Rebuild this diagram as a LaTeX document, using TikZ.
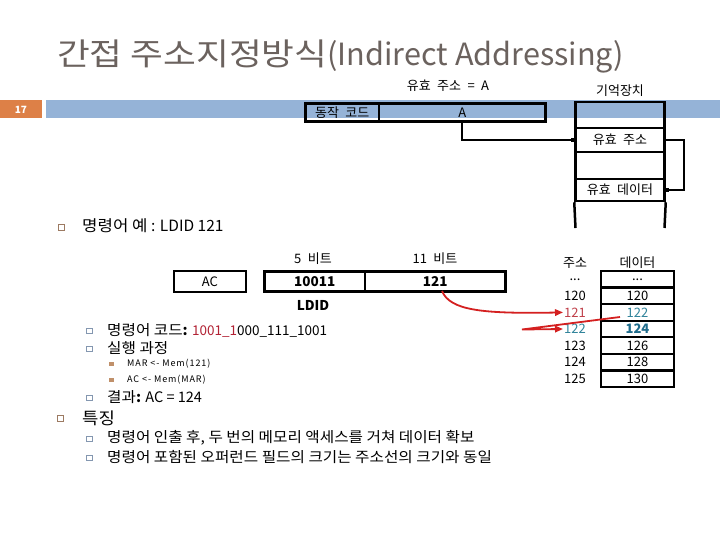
\documentclass[tikz,border=0pt]{standalone}
\usepackage{fontspec}
\setmainfont{Noto Sans CJK KR}
\newfontfamily\dfont[WordSpace=2.2]{Noto Sans CJK KR}
\newfontfamily\smfont[LetterSpace=10]{Noto Sans CJK KR}
\newfontfamily\kr[FakeStretch=1.08]{Noto Sans CJK KR}
\newfontfamily\krtitle[FakeStretch=1.15]{Noto Sans CJK KR}
\usetikzlibrary{arrows.meta}
\definecolor{bandblue}{HTML}{95B3D7}
\definecolor{pageorange}{HTML}{DD8047}
\definecolor{titlegray}{HTML}{6B625E}
\definecolor{bullA}{HTML}{9C7A62}
\definecolor{bullB}{HTML}{8497B0}
\definecolor{bullC}{HTML}{C0906A}
\definecolor{codered}{HTML}{B22234}
\definecolor{addrred}{HTML}{C0404A}
\definecolor{tealc}{HTML}{31849B}
\definecolor{tealdark}{HTML}{1F6C8C}
\definecolor{arrowred}{HTML}{D42020}
\newcommand\myfs[1]{\fontsize{#1}{#1}\selectfont}
\begin{document}
\begin{tikzpicture}[x=1pt,y=-1pt,
  thickbox/.style={draw, line width=2.5pt, inner sep=0pt},
  thinbox/.style={draw, line width=1.5pt, inner sep=0pt},
  tablebox/.style={draw, line width=2.2pt, inner sep=0pt, minimum width=73pt, minimum height=16.57pt, font=\dfont\myfs{13}},
  addr/.style={inner sep=1pt, font=\dfont\myfs{13}},
  dlabel/.style={inner sep=0pt, font=\dfont\myfs{13}},
  conn/.style={line width=2pt, -{Square[length=3.5pt,width=3.5pt]}},
  redarrow/.style={draw=arrowred, line width=1.8pt, -{Triangle[length=8pt,width=6.5pt]}},
  bA/.style={draw=bullA, line width=0.8pt, minimum size=6pt, inner sep=0pt},
  bB/.style={draw=bullB, line width=0.7pt, minimum size=5.5pt, inner sep=0pt},
  bC/.style={fill=bullC, minimum size=4.5pt, inner sep=0pt},
  txt/.style={anchor=west, inner sep=0pt}
]
\useasboundingbox[fill=white] (0,0) rectangle (720,540);

% title
\node[anchor=base west, inner sep=0pt, text=titlegray] (title) at (57,66) {{\krtitle\myfs{31}간접 주소지정방식}{\myfs{30.6}(Indirect Addressing)}};

% band
\fill[bandblue] (46,100.5) rectangle (720,118.5);
\fill[pageorange] (0,100.5) rectangle (42,118.5);
\node[text=white, font={\bfseries\myfs{10}}, inner sep=0pt] (pnum) at (21,109.5) {17};

% top instruction
\node[dlabel] (lblea) at (448,86) {유효 주소 = A};
\node[dlabel] (lblmem) at (620,91) {기억장치};
\node[thickbox, minimum width=73.5pt, minimum height=18pt, dlabel] (op1) at (342.25,112.5) {동작 코드};
\node[thickbox, minimum width=166.5pt, minimum height=18pt, dlabel] (op2) at (462.25,112.5) {A};

% memory
\node[thickbox, minimum width=89pt, minimum height=26pt] (mem0) at (620,115) {};
\node[thickbox, minimum width=89pt, minimum height=24pt, dlabel] (mem1) at (620,140) {유효 주소};
\node[thickbox, minimum width=89pt, minimum height=27pt] (mem2) at (620,165.5) {};
\node[thickbox, minimum width=89pt, minimum height=22pt, dlabel] (mem3) at (620,190) {유효 데이터};
\coordinate (memBL) at (575.5,228);
\coordinate (memBR) at (664.5,228);
\draw[line width=2.5pt] (mem3.south west) -- (memBL);
\draw[line width=2.5pt] (mem3.south east) -- (memBR);

\draw[conn] (op2.south) |- (mem1.west);
\draw[conn] (mem1.east) -- ++(18,0) |- (mem3.east);

% example
\node[bA] (bu1) at (61.5,227) {};
\node[txt, font={\myfs{15.5}}] (t1) at (82,226) {{\kr 명령어 예} : LDID 121};

\node[dlabel] (l5) at (313,259) {5 비트};
\node[dlabel] (l11) at (435,259) {11 비트};
\node[thinbox, minimum width=72pt, minimum height=21pt, dlabel] (acbox) at (210,281.5) {AC};
\node[thickbox, minimum width=100.5pt, minimum height=20pt, font={\bfseries\myfs{13.5}}] (ins1) at (314.75,281.5) {10011};
\node[thickbox, minimum width=140.5pt, minimum height=20pt, font={\bfseries\myfs{13.5}}] (ins2) at (435.25,281.5) {121};
\node[inner sep=0pt, font={\bfseries\myfs{13.5}}] (ldid) at (313,305) {LDID};

% memory table
\node[dlabel] (hAddr) at (575,263) {주소};
\node[dlabel] (hData) at (637.5,263) {데이터};
\node[tablebox] (d0) at (637.5,279.3) {...};
\node[tablebox] (d1) at (637.5,295.9) {120};
\node[tablebox, text=tealc] (d2) at (637.5,312.4) {122};
\node[tablebox, text=tealdark, font={\bfseries\myfs{13}}] (d3) at (637.5,329.0) {124};
\node[tablebox] (d4) at (637.5,345.6) {126};
\node[tablebox] (d5) at (637.5,362.1) {128};
\node[tablebox] (d6) at (637.5,378.7) {130};
\node[addr] (a0) at (575,279.3) {...};
\node[addr] (a1) at (575,295.9) {120};
\node[addr, text=addrred] (a2) at (575,312.4) {121};
\node[addr, text=tealc] (a3) at (575,329.0) {122};
\node[addr] (a4) at (575,345.6) {123};
\node[addr] (a5) at (575,362.1) {124};
\node[addr] (a6) at (575,378.7) {125};

% red arrows
\coordinate (r1s) at (442,291);
\draw[redarrow] (r1s) .. controls (450,310) and (480,314) .. (a2.west);
\coordinate (r2s) at (620,317);
\coordinate (r2m) at (522,329.5);
\draw[redarrow] (r2s) -- (r2m) -- (a3.west);

% text list
\node[bB] (bu2) at (89.5,331) {};
\node[txt, font={\myfs{14.5}}] (t2) at (107,330) {{\kr 명령어 코드}\textbf{:} {\myfs{13.5}\textcolor{codered}{1001\_1}000\_111\_1001}};
\node[bB] (bu3) at (89.5,349) {};
\node[txt, font={\kr\myfs{14.5}}] (t3) at (107,348) {실행 과정};
\node[bC] (bu4) at (111.7,364) {};
\node[txt, font={\smfont\myfs{9}}] (t4) at (127,364) {MAR <- Mem(121)};
\node[bC] (bu5) at (111.7,380) {};
\node[txt, font={\smfont\myfs{9}}] (t5) at (127,380) {AC <- Mem(MAR)};
\node[bB] (bu6) at (89.5,398) {};
\node[txt, font={\myfs{14.5}}] (t6) at (107,397) {{\kr 결과}\textbf{:} AC = 124};
\node[bA] (bu7) at (60,418) {};
\node[txt, font={\kr\myfs{16.5}}] (t7) at (82,418) {특징};
\node[bB] (bu8) at (89.5,439) {};
\node[txt, font={\kr\myfs{14.5}}] (t8) at (107,438) {명령어 인출 후, 두 번의 메모리 액세스를 거쳐 데이터 확보};
\node[bB] (bu9) at (89.5,458) {};
\node[txt, font={\kr\myfs{14.5}}] (t9) at (107,457) {명령어 포함된 오퍼런드 필드의 크기는 주소선의 크기와 동일};
\end{tikzpicture}
\end{document}
